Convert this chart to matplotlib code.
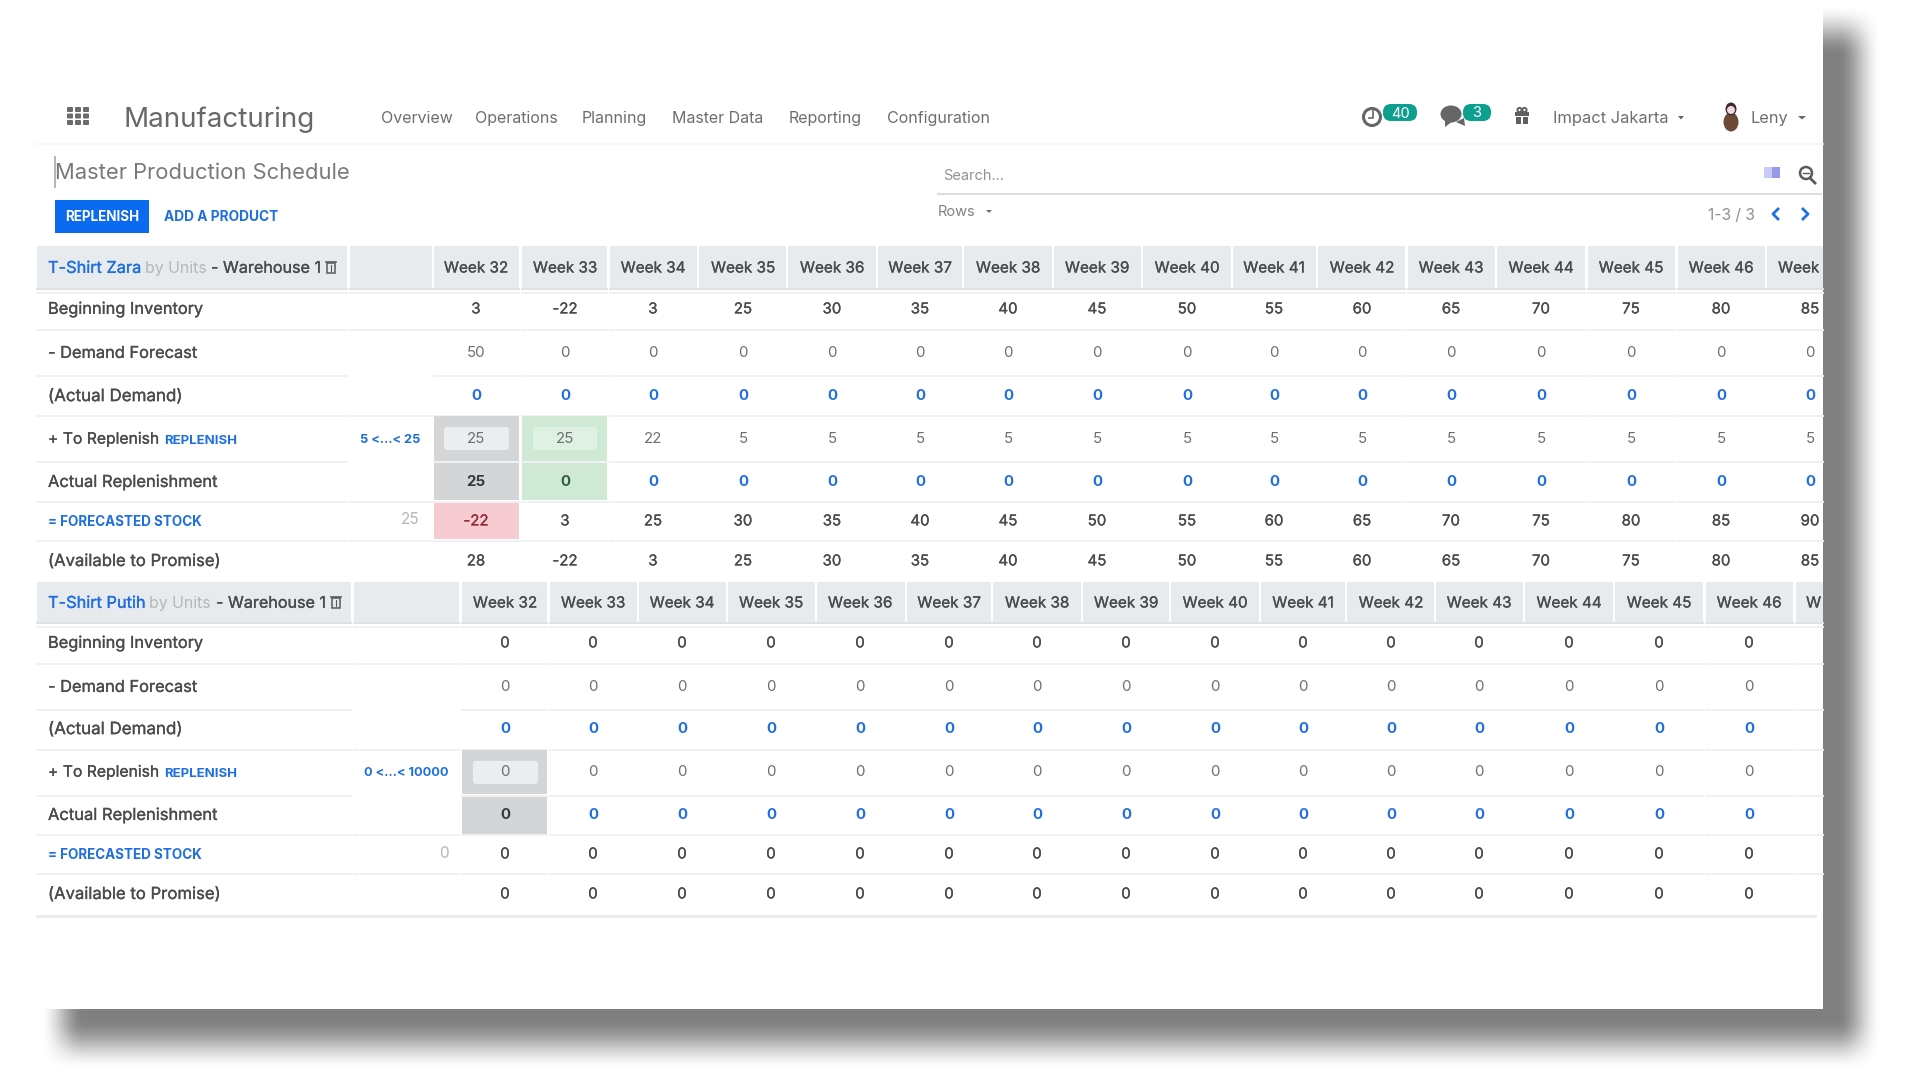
"""
plot.py - Master Production Schedule screenshot, redrawn with matplotlib.
"""

import numpy as np
import matplotlib
matplotlib.use("Agg")
import matplotlib.pyplot as plt
import matplotlib.patheffects as pe
from matplotlib.patches import Rectangle, FancyBboxPatch, Circle, Ellipse, Polygon

# ── Data ──────────────────────────────────────────────────────────────────────
NAV_ITEMS = ["Overview", "Operations", "Planning", "Master Data", "Reporting", "Configuration"]
ROW_LABELS = ["Beginning Inventory", "- Demand Forecast", "(Actual Demand)", "+ To Replenish",
              "Actual Replenishment", "= FORECASTED STOCK", "(Available to Promise)"]
WEEKS = ["Week 32", "Week 33", "Week 34", "Week 35", "Week 36", "Week 37", "Week 38", "Week 39",
         "Week 40", "Week 41", "Week 42", "Week 43", "Week 44", "Week 45", "Week 46", "Week 47"]

zara_begin = [3, -22, 3, 25, 30, 35, 40, 45, 50, 55, 60, 65, 70, 75, 80, 85]
zara_demand = [50, 0, 0, 0, 0, 0, 0, 0, 0, 0, 0, 0, 0, 0, 0, 0]
zara_actual_demand = [0, 0, 0, 0, 0, 0, 0, 0, 0, 0, 0, 0, 0, 0, 0, 0]
zara_replenish = [25, 25, 22, 5, 5, 5, 5, 5, 5, 5, 5, 5, 5, 5, 5, 5]
zara_actual_repl = [25, 0, 0, 0, 0, 0, 0, 0, 0, 0, 0, 0, 0, 0, 0, 0]
zara_forecast = [-22, 3, 25, 30, 35, 40, 45, 50, 55, 60, 65, 70, 75, 80, 85, 90]
zara_promise = [28, -22, 3, 25, 30, 35, 40, 45, 50, 55, 60, 65, 70, 75, 80, 85]

putih_begin = [0, 0, 0, 0, 0, 0, 0, 0, 0, 0, 0, 0, 0, 0, 0]
putih_demand = [0, 0, 0, 0, 0, 0, 0, 0, 0, 0, 0, 0, 0, 0, 0]
putih_actual_demand = [0, 0, 0, 0, 0, 0, 0, 0, 0, 0, 0, 0, 0, 0, 0]
putih_replenish = [0, 0, 0, 0, 0, 0, 0, 0, 0, 0, 0, 0, 0, 0, 0]
putih_actual_repl = [0, 0, 0, 0, 0, 0, 0, 0, 0, 0, 0, 0, 0, 0, 0]
putih_forecast = [0, 0, 0, 0, 0, 0, 0, 0, 0, 0, 0, 0, 0, 0, 0]
putih_promise = [0, 0, 0, 0, 0, 0, 0, 0, 0, 0, 0, 0, 0, 0, 0]

# ── Layout (screen pixels) ────────────────────────────────────────────────────
PANEL_R, PANEL_B = 1823, 1009
NAV_X = [381, 475, 582, 672, 789, 887]

ZARA_CX = [476, 565, 653, 743, 832, 920, 1008, 1097, 1187, 1274, 1362, 1451, 1541, 1631, 1721, 1810]
ZARA_EDGES = [(434, 519), (522, 607), (610, 697), (699, 786), (788, 876), (878, 962), (964, 1052),
              (1054, 1141), (1143, 1231), (1233, 1316), (1318, 1405), (1408, 1495), (1497, 1585),
              (1588, 1675), (1678, 1765), (1767, 1823)]
ZARA_ROW_Y = [308, 352, 395, 438, 481, 520, 560]
ZARA_LINES = [330, 376, 416, 462, 502, 541]

PUTIH_CX = [505, 593, 682, 771, 860, 949, 1037, 1126, 1215, 1303, 1391, 1479, 1569, 1659, 1749, 1838]
PUTIH_EDGES = [(462, 547), (550, 637), (639, 726), (728, 815), (817, 905), (907, 991), (993, 1081),
               (1083, 1169), (1171, 1259), (1261, 1345), (1347, 1434), (1436, 1523), (1525, 1613),
               (1615, 1703), (1706, 1793), (1796, 1823)]
PUTIH_ROW_Y = [642, 686, 728, 771, 814, 853, 893]
PUTIH_LINES = [664, 710, 750, 796, 835, 874]

TEXT_DARK = "#4a4b4d"
TEXT_MID = "#6d6e70"
TEXT_LIGHT = "#b4b7ba"
BLUE = "#1f6fe0"
HEAD_BG = "#e8ebee"
LINE = "#f0f1f2"
GREY_CELL = "#d3d5d7"
GREEN_CELL = "#cfe9d4"
RED_CELL = "#f6ccd2"
TEAL = "#0d9f90"

plt.rcParams["font.family"] = ["Inter", "DejaVu Sans"]

fig = plt.figure(figsize=(19.2, 10.8), dpi=100, facecolor="white")
ax = fig.add_axes([0, 0, 1, 1])
ax.set_xlim(0, 1920)
ax.set_ylim(1080, 0)
ax.axis("off")

# ── Drop shadow ───────────────────────────────────────────────────────────────
xx = np.arange(1920) + 0.5
yy = np.arange(1080) + 0.5


def soft_box(v, lo, hi, width):
    """Smooth ramp up at lo and down at hi."""
    up = np.clip((v - lo) / width + 0.5, 0, 1)
    down = np.clip((hi - v) / width + 0.5, 0, 1)
    return (up * up * (3 - 2 * up)) * (down * down * (3 - 2 * down))


mask = np.outer(soft_box(yy, 30, 1045, 52), soft_box(xx, 62, 1860, 44))
shadow = 255 - mask * (255 - 128)
ax.imshow(shadow, cmap="gray", vmin=0, vmax=255, extent=(0, 1920, 1080, 0),
          aspect="auto", zorder=0, interpolation="bilinear")
ax.set_xlim(0, 1920)
ax.set_ylim(1080, 0)
ax.add_patch(Rectangle((0, 0), PANEL_R, PANEL_B, fc="white", ec="none", zorder=1))

clip_rect = Rectangle((0, 0), PANEL_R - 2, PANEL_B, transform=ax.transData)


def label(x, y, s, size=10.5, color=TEXT_DARK, ha="left", weight="normal", clip=False, thick=0.0):
    # baseline placement so descenders do not shift a word off its row
    t = ax.text(x, y + 0.5 * size, s, fontsize=size, color=color, ha=ha, va="baseline",
                weight=weight, zorder=5)
    if thick:
        t.set_path_effects([pe.withStroke(linewidth=thick, foreground=color)])
    if clip:
        t.set_clip_on(True)
        t.set_clip_path(clip_rect)
    return t


def box(x0, x1, y0, y1, color, z=2):
    ax.add_patch(Rectangle((x0, y0), x1 - x0, y1 - y0, fc=color, ec="none", zorder=z))


def rounded(x0, x1, y0, y1, color, r=3, z=3):
    ax.add_patch(FancyBboxPatch((x0 + r, y0 + r), x1 - x0 - 2 * r, y1 - y0 - 2 * r,
                                boxstyle=f"round,pad={r},rounding_size={r}",
                                fc=color, ec="none", zorder=z))


# ── Top bar ───────────────────────────────────────────────────────────────────
for gx in (67, 75, 83):
    for gy in (107, 113.5, 120):
        rounded(gx, gx + 6, gy, gy + 5, "#6a6a6a", r=1)
label(124, 117, "Manufacturing", size=20, color="#66686a")
for x, s in zip(NAV_X, NAV_ITEMS):
    label(x, 117, s, size=11.5, color=TEXT_MID)
ax.plot([37, PANEL_R], [144, 144], color="#f6f6f6", lw=1.2, zorder=2)

# clock + badge
ax.add_patch(Circle((1372, 117), 8.5, fc="white", ec="#666666", lw=2.2, zorder=3))
ax.plot([1373, 1373, 1369], [111, 118, 118], color="#666666", lw=1.2, zorder=4)
rounded(1383, 1417, 104, 121, TEAL, r=8, z=3)
label(1400, 112.5, "40", size=10.5, color="white", ha="center")
# chat + badge
ax.add_patch(Ellipse((1451, 114), 21, 17, fc="#666666", ec="none", zorder=3))
ax.add_patch(Polygon([[1445, 120], [1445, 127], [1453, 121]], fc="#666666", ec="none", zorder=3))
ax.add_patch(Polygon([[1456, 122], [1465, 126], [1464, 118]], fc="#666666", ec="none", zorder=3))
rounded(1463, 1491, 104, 121, TEAL, r=8, z=4)
label(1477, 112, "3", size=10.5, color="white", ha="center")
# gift
box(1515, 1529, 112, 116, "#606060", z=3)
box(1516, 1521, 117, 124, "#606060", z=3)
box(1523, 1528, 117, 124, "#606060", z=3)
ax.add_patch(Circle((1519.5, 110), 2.1, fc="none", ec="#606060", lw=1.4, zorder=3))
ax.add_patch(Circle((1524.5, 110), 2.1, fc="none", ec="#606060", lw=1.4, zorder=3))

label(1553, 117, "Impact Jakarta", size=11.9, color=TEXT_MID)
ax.add_patch(Polygon([[1678, 116], [1684, 116], [1681, 119.5]], fc="#666666", ec="none", zorder=3))
# avatar
ax.add_patch(Ellipse((1731, 122), 15, 19, fc="#6d4a35", ec="none", zorder=3))
ax.add_patch(Ellipse((1731, 109), 11, 13, fc="#3d2a2a", ec="none", zorder=3))
ax.add_patch(Ellipse((1731, 110), 8, 8, fc="#f0d6dd", ec="none", zorder=4))
label(1750, 117, "Leny", size=11.8, color=TEXT_MID)
ax.add_patch(Polygon([[1798, 116], [1806, 116], [1802, 119.5]], fc="#666666", ec="none", zorder=3))

# ── Title, buttons, search ────────────────────────────────────────────────────
ax.plot([54.5, 54.5], [157, 187], color="#a8a8a8", lw=1.2, zorder=3)
label(55, 171.5, "Master Production Schedule", size=15.8, color="#77797b")
box(54.5, 149, 200, 233, "#0b6bf0")
label(102, 216, "REPLENISH", size=9.7, color="white", ha="center", weight="bold")
label(164, 216, "ADD A PRODUCT", size=9.9, color=BLUE, weight="bold")

label(943, 175, "Search...", size=10.5, color="#909294")
ax.plot([938, 1821], [193.5, 193.5], color="#dcdddf", lw=1.5, zorder=2)
label(938, 211, "Rows", size=10.5, color="#808284")
ax.add_patch(Polygon([[986, 210], [992, 210], [989, 213]], fc="#707070", ec="none", zorder=3))
box(1764, 1772, 167, 178, "#c8cbf7", z=3)
box(1772, 1780, 167, 178, "#949be9", z=3)
ax.add_patch(Circle((1806, 173), 6, fc="none", ec="#5a5a5a", lw=1.8, zorder=3))
ax.plot([1810, 1815], [178, 183], color="#5a5a5a", lw=2, zorder=3)
ax.plot([1803, 1809], [173, 173], color="#5a5a5a", lw=1, zorder=3)
label(1708, 214, "1-3 / 3", size=11.2, color="#8e9092")
ax.plot([1778, 1773, 1778], [209, 214, 219], color=BLUE, lw=2, zorder=3)
ax.plot([1803, 1808, 1803], [209, 214, 219], color=BLUE, lw=2, zorder=3)


# ── Tables ────────────────────────────────────────────────────────────────────
def trash(x, y):
    ax.add_patch(Rectangle((x, y - 4), 8, 10, fc="none", ec="#5a5a5a", lw=1.1, zorder=4))
    ax.plot([x - 1, x + 9], [y - 5, y - 5], color="#5a5a5a", lw=1.2, zorder=4)
    ax.plot([x + 4, x + 4], [y - 2, y + 4], color="#5a5a5a", lw=0.8, zorder=4)


def draw_table(name, name_x, by_x, wh_x, trash_x, head_y, edges, cx, row_y, lines, label_cols,
               min_text, series, overrides):
    y0, y1 = head_y
    for a, b in label_cols + edges:
        box(a, b, y0, y1, HEAD_BG)
        ax.plot([a, b], [y1 + 1, y1 + 1], color="#dfe2e5", lw=1.4, zorder=2)
        ax.plot([a, b], [y1 + 5, y1 + 5], color=LINE, lw=1.4, zorder=2)
    ymid = (y0 + y1) / 2
    label(name_x, ymid, name, size=11.8, color=BLUE, thick=0.2)
    label(by_x, ymid, "by Units", size=11.4, color=TEXT_LIGHT)
    label(wh_x, ymid, "- Warehouse 1", size=11.6, thick=0.2)
    trash(trash_x, ymid)
    for week, c in zip(WEEKS, cx):
        label(c, ymid, week, size=11, ha="center", clip=True, thick=0.2)

    for i, ly in enumerate(lines):
        ax.plot(label_cols[0], [ly, ly], color=LINE, lw=1.4, zorder=2)
        if i not in (1, 3):
            ax.plot(label_cols[1], [ly, ly], color=LINE, lw=1.4, zorder=2)
        for a, b in edges:
            ax.plot([a, b], [ly, ly], color=LINE, lw=1.4, zorder=2)

    row_sizes = [11.8, 11.8, 12.2, 11.3, 11.9, 9.7, 12.0]
    for i, (text, y) in enumerate(zip(ROW_LABELS, row_y)):
        if i == 5:
            label(48, y + 1, text, size=row_sizes[i], color=BLUE, weight="bold")
        else:
            label(48, y, text, size=row_sizes[i], thick=0.2)
    label(164, row_y[3] + 1, "REPLENISH", size=9.5, color=BLUE, weight="bold")
    label(min_text[0], row_y[3], min_text[1], size=9.2, color=BLUE, ha="right", weight="bold")
    label(min_text[0], row_y[5] - 1, min_text[2], size=11, color=TEXT_LIGHT, ha="right")

    styles = [(TEXT_DARK, 0.2, "normal"), (TEXT_MID, 0, "normal"), (BLUE, 0, "bold"), (TEXT_MID, 0, "normal"),
              (BLUE, 0, "bold"), (TEXT_DARK, 0.2, "normal"), (TEXT_DARK, 0.2, "normal")]
    for r, (values, y, (color, thick, weight)) in enumerate(zip(series, row_y, styles)):
        for k, (v, c) in enumerate(zip(values, cx)):
            col = overrides.get((r, k), color)
            w = "bold" if (r, k) in overrides and r == 4 else weight
            label(c, y, str(v), size=10.8, color=col, weight=w, ha="center", clip=True, thick=thick)


draw_table("T-Shirt Zara", 48, 145, 211, 327, (246, 288), ZARA_EDGES, ZARA_CX, ZARA_ROW_Y, ZARA_LINES,
           [(37, 347), (350, 432)], (420, "5 <…< 25", "25"),
           [zara_begin, zara_demand, zara_actual_demand, zara_replenish, zara_actual_repl,
            zara_forecast, zara_promise],
           {(4, 0): "#37383a", (4, 1): "#2f5f3c", (5, 0): "#8f2f3a"})
draw_table("T-Shirt Putih", 48, 149, 216, 332, (582, 622), PUTIH_EDGES, PUTIH_CX, PUTIH_ROW_Y, PUTIH_LINES,
           [(37, 351), (354, 459)], (449, "0 <…< 10000", "0"),
           [putih_begin, putih_demand, putih_actual_demand, putih_replenish, putih_actual_repl,
            putih_forecast, putih_promise],
           {(4, 0): "#37383a"})

# closing line of the page, its cells sit 8px left of the second table's columns
ax.plot([37, 341], [915.5, 915.5], color="#e9eaeb", lw=2, zorder=2)
for a, b in [(352, 459)] + PUTIH_EDGES:
    ax.plot([a - 8, b - 8], [915.5, 915.5], color="#e9eaeb", lw=2, zorder=2)

# ── Highlighted cells ─────────────────────────────────────────────────────────
box(434, 519, 416, 461, GREY_CELL)
box(434, 519, 463, 500, GREY_CELL)
box(522, 607, 416, 461, GREEN_CELL)
box(522, 607, 463, 500, GREEN_CELL)
box(434, 519, 503, 539, RED_CELL)
rounded(444, 509, 427, 450, "#ecedee")
rounded(533, 597, 427, 450, "#dff1e3")
box(462, 547, 750, 794, GREY_CELL)
box(462, 547, 796.5, 834, GREY_CELL)
rounded(473, 538, 761, 784, "#ecedee")

fig.savefig("out.png", dpi=100)
plt.close(fig)
